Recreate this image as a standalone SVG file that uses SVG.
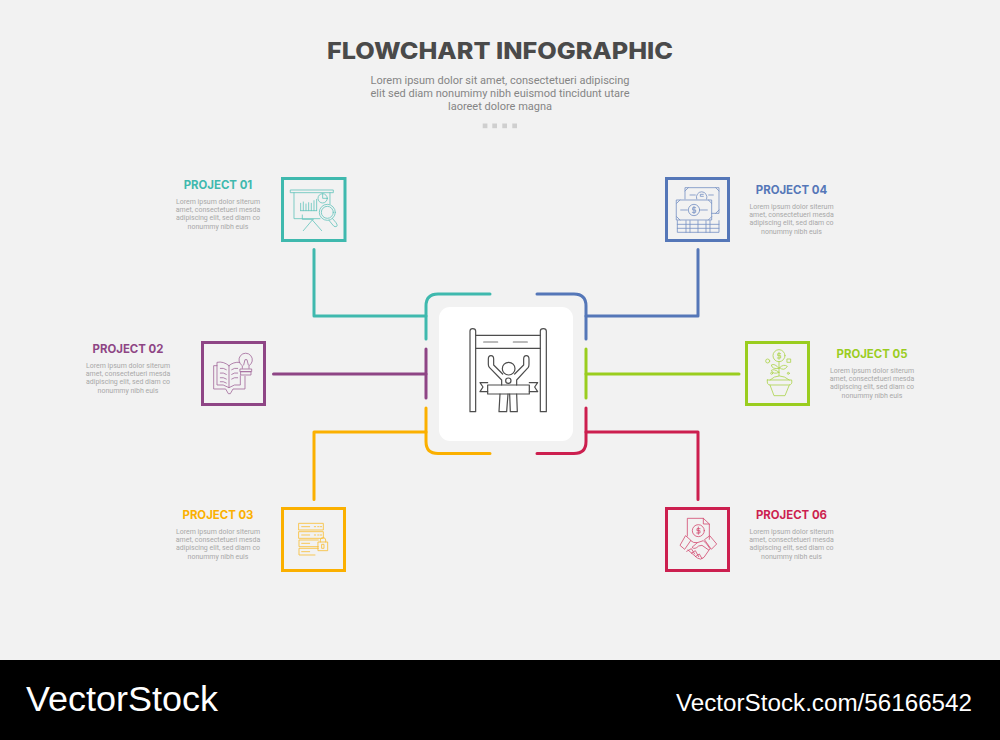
<svg xmlns="http://www.w3.org/2000/svg" width="1000" height="740" viewBox="0 0 1000 740">
<style>
.lab{font-family:"Inter","Open Sans","Liberation Sans",sans-serif;font-weight:700;font-size:11.4px;text-anchor:middle}
.desc{font-family:"Roboto","Liberation Sans",sans-serif;font-size:7px;fill:#a8a8a8;text-anchor:middle}
.sub{font-family:"Roboto","Liberation Sans",sans-serif;font-size:11px;fill:#858585;text-anchor:middle}
.wm{font-family:"Liberation Sans",Arial,sans-serif;fill:#fff}
.box{fill:none;stroke-width:3}
.ln{fill:none;stroke-width:3;stroke-linecap:round;stroke-linejoin:round}
.ic{fill:none;stroke-width:2.4;stroke-linejoin:round;stroke-linecap:round;opacity:.8}
.teal{stroke:#3fb9ae}.blue{stroke:#5577b8}.pur{stroke:#8e4585}.grn{stroke:#9acd1f}.org{stroke:#fbb000}.red{stroke:#cc1f4f}
</style>
<rect width="1000" height="660" fill="#f2f2f2"/>
<rect y="660" width="1000" height="80" fill="#000"/>

<g id="header">
<text x="500" y="59" text-anchor="middle" font-family="Inter,'Open Sans','Liberation Sans',sans-serif" font-weight="800" font-size="23px" fill="#4a4a4a" textLength="346" lengthAdjust="spacingAndGlyphs">FLOWCHART INFOGRAPHIC</text>
<text class="sub" x="500" y="84">Lorem ipsum dolor sit amet, consectetueri adipiscing</text>
<text class="sub" x="500" y="97">elit sed diam nonumimy nibh euismod tincidunt utare</text>
<text class="sub" x="500" y="110">laoreet dolore magna</text>
<g fill="#cfcfcf"><rect x="482.700" y="123.500" width="4.700" height="4.700"/><rect x="492.300" y="123.500" width="4.700" height="4.700"/><rect x="502.300" y="123.500" width="4.700" height="4.700"/><rect x="512.300" y="123.500" width="4.700" height="4.700"/></g>
</g>

<g id="connectors">
<path class="ln teal" d="M314 249.500V316H426"/>
<path class="ln blue" d="M698 249.500V316H586"/>
<path class="ln pur" d="M273.500 374H426"/>
<path class="ln grn" d="M739 374H586"/>
<path class="ln org" d="M314 499.500V432H426"/>
<path class="ln red" d="M698 499.500V432H586"/>
</g>

<g id="center">
<rect x="439" y="307" width="134" height="134" rx="11" fill="#fff"/>
<path class="ln teal" d="M426 339V306Q426 294 438 294H490"/>
<path class="ln blue" d="M586 339V306Q586 294 574 294H537"/>
<path class="ln pur" d="M426 349V398"/>
<path class="ln grn" d="M586 349V398"/>
<path class="ln org" d="M426 408V441.500Q426 453.500 438 453.500H490"/>
<path class="ln red" d="M586 408V441.500Q586 453.500 574 453.500H537"/>
<g transform="translate(420 285) scale(.3333)" fill="none" stroke="#4d4d4d" stroke-width="3.600" stroke-linejoin="round" stroke-linecap="round">
<path d="M150 380V138Q150 131 158 131Q167 131 167 138V380Z"/>
<path d="M361 380V138Q361 131 370 131Q379 131 379 138V380Z"/>
<path d="M167 151H361M167 190H361"/>
<path d="M191 171H233M280 171H322" stroke="#777"/>
<circle cx="266" cy="251" r="19"/>
<circle cx="265" cy="287" r="8"/>
<path d="M245 300V285L208 247Q205 244 205 238V222Q205 212 213 212Q221 212 221 222V240L248 267"/>
<path d="M290 300V285L325 247Q327 244 327 238V222Q327 212 319 212Q311 212 311 222V240L284 267"/>
<path d="M203 300H328V327H203Z"/>
<path d="M203 293H180L189 306L180 320H203M328 293H353L344 306L353 320H328"/>
<path d="M240 327L237 380H260L264 327M269 327L271 380H292L290 327"/>
</g>
</g>

<g id="project-01">
<rect class="box teal" x="282.500" y="178.500" width="62.500" height="62"/>
<g class="ic teal" transform="translate(170 170) scale(.3333)">
<path d="M362 60H490V68H362ZM372 68V146H450M480 68V102"/>
<path d="M392 122H440M392 100V122M400 96V122M408 102V122M416 98V122M424 100V122M432 92V122M440 88V122"/>
<circle cx="458" cy="85" r="14"/><path d="M458 71V85H472"/>
<circle cx="472" cy="127" r="24"/><circle cx="472" cy="127" r="18"/>
<path d="M488 146L498 158Q505 168 498 170Q492 172 486 162L477 151"/>
<path d="M397 135V148H430M427 150L400 182M427 150L455 182"/>
</g>
<text class="lab" x="218" y="189" fill="#3fb9ae">PROJECT 01</text>
<text class="desc" x="218" y="203.500">Lorem ipsum dolor siterum</text>
<text class="desc" x="218" y="212">amet, consectetueri mesda</text>
<text class="desc" x="218" y="220">adipiscing elit, sed diam co</text>
<text class="desc" x="218" y="228.500">nonummy nibh euis</text>
</g>

<g id="project-02">
<rect class="box pur" x="202.500" y="342.500" width="62" height="62"/>
<g class="ic pur" transform="translate(195 335) scale(.3333)">
<path d="M102 92Q85 78 66 82V150Q85 146 102 158Q118 146 136 150V122M102 92V158M102 92Q115 80 134 82"/>
<path d="M66 92H56V162H92L100 176H106L114 162H150V124"/>
<path d="M76 100Q85 98 94 104M76 114Q85 112 94 118M76 128Q85 126 94 132M76 140Q85 138 94 144M110 104Q118 98 128 100M110 118Q118 112 128 114M110 132Q118 126 128 128"/>
<path d="M142 100V92A20 20 0 1 1 162 92V100M146 90L150 74H156L160 90"/>
<path d="M136 102H170V110H136ZM138 110H168V120H138Z"/>
</g>
<text class="lab" x="128" y="353" fill="#8e4585">PROJECT 02</text>
<text class="desc" x="128" y="367.500">Lorem ipsum dolor siterum</text>
<text class="desc" x="128" y="376">amet, consectetueri mesda</text>
<text class="desc" x="128" y="384">adipiscing elit, sed diam co</text>
<text class="desc" x="128" y="392.500">nonummy nibh euis</text>
</g>

<g id="project-03">
<rect class="box org" x="282.500" y="508.500" width="62" height="62"/>
<g class="ic org" transform="translate(275 500) scale(.3333)">
<rect x="72" y="70" width="73" height="20"/><rect x="72" y="95" width="73" height="20"/><path d="M130 140H72V120H130M120 165H72V145H130"/>
<path d="M80 80H104M118 80H122M128 80H132M136 80H140M80 105H104M118 105H122M128 105H132M136 105H140M80 130H104M80 155H104"/>
<rect x="130" y="126" width="28" height="26"/><path d="M136 126V120Q136 113 144 113Q152 113 152 120V126M141 133H147V145H141Z"/>
</g>
<text class="lab" x="218" y="519" fill="#fbb000">PROJECT 03</text>
<text class="desc" x="218" y="533.500">Lorem ipsum dolor siterum</text>
<text class="desc" x="218" y="542">amet, consectetueri mesda</text>
<text class="desc" x="218" y="550">adipiscing elit, sed diam co</text>
<text class="desc" x="218" y="558.500">nonummy nibh euis</text>
</g>

<g id="project-04">
<rect class="box blue" x="666.500" y="178.500" width="62" height="62"/>
<g class="ic blue" transform="translate(660 175) scale(.3333)">
<path d="M75 72V38H177V115H155M85 38L75 48M167 38L177 48M167 115L177 105M90 60H106M146 60H160"/>
<path d="M110 72A16 16 0 1 1 140 72"/><path d="M130 58H121V64H130"/>
<rect x="50" y="75" width="105" height="60"/>
<path d="M60 75L50 85M145 75L155 85M60 135L50 125M145 135L155 125M62 105H82M122 105H142"/>
<circle cx="102" cy="105" r="17"/><path d="M107 98H98V105H107V112H97M102 94V116"/>
<path d="M52 137V172H177V137M52 148H177M52 160H177M78 137V172M90 137V172M114 137V172M138 137V172M150 137V172"/>
</g>
<text class="lab" x="791.500" y="193.500" fill="#5577b8">PROJECT 04</text>
<text class="desc" x="791.500" y="208.500">Lorem ipsum dolor siterum</text>
<text class="desc" x="791.500" y="217">amet, consectetueri mesda</text>
<text class="desc" x="791.500" y="225">adipiscing elit, sed diam co</text>
<text class="desc" x="791.500" y="233.500">nonummy nibh euis</text>
</g>

<g id="project-05">
<rect class="box grn" x="746.500" y="342.500" width="62" height="62"/>
<g class="ic grn" transform="translate(740 335) scale(.3333)">
<circle cx="117" cy="62" r="18"/><path d="M122 56H113V62H122V69H112M117 52V73"/>
<circle cx="83" cy="78" r="6"/><rect x="142" y="72" width="10" height="10"/>
<circle cx="95" cy="115" r="3"/><circle cx="145" cy="115" r="3"/>
<path d="M117 80V122"/>
<path d="M117 100Q104 84 94 90Q96 104 117 100ZM117 112Q102 100 94 106Q100 120 117 112ZM119 98Q130 86 142 94Q132 110 119 98Z"/>
<path d="M90 135Q117 110 148 135M82 135H155Q158 150 146 150H90Q80 150 82 135ZM90 150L102 182H135L148 150"/>
</g>
<text class="lab" x="872" y="358" fill="#9acd1f">PROJECT 05</text>
<text class="desc" x="872" y="372.500">Lorem ipsum dolor siterum</text>
<text class="desc" x="872" y="381">amet, consectetueri mesda</text>
<text class="desc" x="872" y="389">adipiscing elit, sed diam co</text>
<text class="desc" x="872" y="397.500">nonummy nibh euis</text>
</g>

<g id="project-06">
<rect class="box red" x="666.500" y="508.500" width="62" height="62"/>
<g class="ic red" transform="translate(660 500) scale(.3333)">
<path d="M82 108V55H130L148 72V118M130 55V72H148"/>
<circle cx="115" cy="92" r="18"/><path d="M120 86H111V92H120V99H110M115 81V103"/>
<path d="M76 108L60 136L74 148L92 122ZM150 108L170 132L154 148L134 120Z"/>
<path d="M92 122Q100 130 112 128L130 122Q140 130 150 146L132 172Q122 182 112 174L84 150"/>
<path d="M112 128L96 142Q104 150 116 138L126 136L146 150M80 154L94 146L104 162M94 160L106 152L116 170M106 170L118 162L126 176"/>
</g>
<text class="lab" x="791.500" y="519" fill="#cc1f4f">PROJECT 06</text>
<text class="desc" x="791.500" y="533.500">Lorem ipsum dolor siterum</text>
<text class="desc" x="791.500" y="542">amet, consectetueri mesda</text>
<text class="desc" x="791.500" y="550">adipiscing elit, sed diam co</text>
<text class="desc" x="791.500" y="558.500">nonummy nibh euis</text>
</g>

<g id="footer">
<text class="wm" x="26" y="711" font-size="34.500" textLength="192" lengthAdjust="spacingAndGlyphs">VectorStock</text>
<text class="wm" x="676" y="711" font-size="23.500" textLength="296" lengthAdjust="spacingAndGlyphs">VectorStock.com/56166542</text>
</g>
</svg>
